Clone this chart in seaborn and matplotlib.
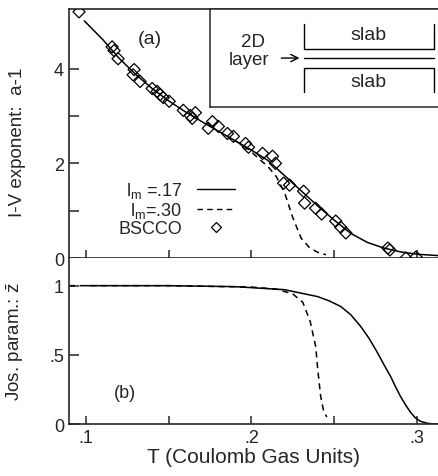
import matplotlib
matplotlib.use("Agg")
import matplotlib.pyplot as plt
import seaborn as sns
from matplotlib.lines import Line2D

# BSCCO data points (I-V exponent a-1)
bscco_t = [0.0958, 0.1158, 0.1170, 0.1194, 0.1291, 0.1285, 0.1327, 0.1400, 0.1430,
           0.1448, 0.1467, 0.1503, 0.1588, 0.1630, 0.1661, 0.1642, 0.1764, 0.1800,
           0.1739, 0.1855, 0.1891, 0.1964, 0.1982, 0.2067, 0.2127, 0.2145, 0.2194,
           0.2230, 0.2315, 0.2321, 0.2388, 0.2424, 0.2509, 0.2539, 0.2570, 0.2824,
           0.2836, 0.2933, 0.2994]
bscco_a = [5.20, 4.46, 4.38, 4.21, 3.98, 3.87, 3.73, 3.58, 3.52,
           3.45, 3.39, 3.31, 3.12, 3.01, 3.07, 2.95, 2.88, 2.78,
           2.74, 2.63, 2.57, 2.42, 2.34, 2.21, 2.15, 2.00, 1.58,
           1.54, 1.41, 1.16, 1.05, 0.93, 0.78, 0.65, 0.53, 0.21,
           0.17, 0.00, 0.02]

# theory curves, panel (a)
t_a17 = [0.099, 0.11, 0.12, 0.13, 0.14, 0.15, 0.16, 0.17, 0.18, 0.19, 0.20, 0.21,
         0.22, 0.23, 0.24, 0.25, 0.26, 0.27, 0.28, 0.29, 0.30, 0.3133]
a_17 = [5.01, 4.62, 4.22, 3.88, 3.58, 3.32, 3.09, 2.88, 2.68, 2.48, 2.28, 2.06,
        1.74, 1.42, 1.10, 0.80, 0.52, 0.33, 0.21, 0.13, 0.08, 0.05]
t_a30 = [0.19, 0.195, 0.20, 0.205, 0.21, 0.215, 0.22, 0.225, 0.23, 0.235, 0.24, 0.245]
a_30 = [2.48, 2.38, 2.24, 2.08, 1.93, 1.72, 1.38, 0.85, 0.42, 0.22, 0.12, 0.07]

# theory curves, panel (b)
t_z17 = [0.10, 0.15, 0.19, 0.22, 0.24, 0.247, 0.254, 0.26, 0.266, 0.271, 0.276,
         0.280, 0.284, 0.287, 0.290, 0.293, 0.296, 0.299, 0.302, 0.306, 0.310, 0.3133]
z_17 = [1.0, 1.0, 0.993, 0.971, 0.921, 0.89, 0.849, 0.79, 0.705, 0.62, 0.518,
        0.43, 0.345, 0.27, 0.20, 0.14, 0.086, 0.045, 0.02, 0.006, 0.0, 0.0]
t_z30 = [0.0897, 0.15, 0.20, 0.215, 0.225, 0.231, 0.2355, 0.2388, 0.240, 0.2418,
         0.2435, 0.2455]
z_30 = [1.0, 1.0, 0.99, 0.975, 0.94, 0.88, 0.74, 0.56, 0.40, 0.20, 0.10, 0.05]

xticks = [0.10, 0.15, 0.20, 0.25, 0.30]
xticklabels = [".1", "", ".2", "", ".3"]

sns.set_style("ticks")
plt.rcParams["font.family"] = ["Liberation Sans", "DejaVu Sans"]
plt.rcParams["mathtext.fontset"] = "custom"
plt.rcParams["mathtext.rm"] = "Liberation Sans"
plt.rcParams["mathtext.it"] = "Liberation Sans"
plt.rcParams["font.size"] = 13

fig = plt.figure(figsize=(4.39, 4.77), dpi=100)
ax1 = fig.add_axes([0.157, 0.457, 0.843, 0.522])
ax2 = fig.add_axes([0.157, 0.109, 0.843, 0.348])

dash = (0, (4, 3))

# panel (a)
sns.lineplot(x=t_a17, y=a_17, ax=ax1, color="black", lw=1.1, sort=False)
sns.lineplot(x=t_a30, y=a_30, ax=ax1, color="black", lw=1.1, ls=dash, sort=False)
sns.scatterplot(x=bscco_t, y=bscco_a, ax=ax1, marker="D", s=38,
                fc="none", ec="black", linewidth=0.9, zorder=3)

# panel (b)
sns.lineplot(x=t_z17, y=z_17, ax=ax2, color="black", lw=1.1, sort=False)
sns.lineplot(x=t_z30, y=z_30, ax=ax2, color="black", lw=1.1, ls=dash, sort=False)

for ax in (ax1, ax2):
    ax.set_xlim(0.0897, 0.3133)
    ax.set_xticks(xticks)
    ax.spines["right"].set_visible(False)
    for s in ax.spines.values():
        s.set_linewidth(1.2)
    ax.tick_params(direction="in", length=6, width=1.1, labelsize=13,
                   top=False, right=False)
    ax.tick_params(axis="y", length=7)

ax1.set_xticklabels([])
ax2.set_xticklabels(xticklabels)
ax1.set_ylim(0, 5.26)
ax1.set_yticks([0, 1, 2, 3, 4])
ax1.set_yticklabels(["0", "", "2", "", "4"])
ax2.set_ylim(0, 1.2)
ax2.set_yticks([0, 0.5, 1.0])
ax2.set_yticklabels(["0", ".5", "1"])
ax2.spines["top"].set_visible(False)

ax1.set_ylabel("I-V exponent:  a-1", fontsize=13.5, labelpad=4)
ax2.set_ylabel(r"Jos. param.: $\bar{\mathrm{z}}$", fontsize=13.5, labelpad=4)
ax2.set_xlabel("T (Coulomb Gas Units)", fontsize=15, labelpad=1)
ax1.yaxis.set_label_coords(-0.115, 0.47)
ax2.yaxis.set_label_coords(-0.115, 0.5)

ax1.text(0.219, 0.88, "(a)", transform=ax1.transAxes, ha="center", va="center",
         fontsize=14)
ax2.text(0.151, 0.19, "(b)", transform=ax2.transAxes, ha="center", va="center",
         fontsize=13)

handles = [
    Line2D([], [], color="black", lw=1.0),
    Line2D([], [], color="black", lw=1.0, ls=dash),
    Line2D([], [], ls="none", marker="D", ms=5, mfc="none", mec="black", mew=0.9),
]
labels = [r"$\mathrm{l_m}$ =.17", r"$\mathrm{l_m}$=.30", "BSCCO"]
ax1.legend(handles, labels, loc="upper left", bbox_to_anchor=(0.11, 0.35),
           frameon=False, markerfirst=False, handlelength=2.1, handletextpad=0.8,
           labelspacing=0.0, borderpad=0, fontsize=13)

# inset sketch of the geometry
ins = ax1.inset_axes([0.381, 0.606, 0.64, 0.394])
ins.set_xlim(0, 1)
ins.set_ylim(0, 1)
ins.set_xticks([])
ins.set_yticks([])
for s in ins.spines.values():
    s.set_linewidth(1.1)
ins.plot([0.397, 0.397, 0.948, 0.948], [0.847, 0.592, 0.592, 0.847], color="black", lw=1.0)
ins.plot([0.397, 0.948], [0.5, 0.5], color="black", lw=1.0)
ins.plot([0.397, 0.397, 0.948, 0.948], [0.153, 0.398, 0.398, 0.153], color="black", lw=1.0)
ins.text(0.668, 0.745, "slab", ha="center", va="center", fontsize=14)
ins.text(0.668, 0.265, "slab", ha="center", va="center", fontsize=14)
ins.text(0.183, 0.673, "2D", ha="center", va="center", fontsize=13.5)
ins.text(0.166, 0.49, "layer", ha="center", va="center", fontsize=13.5)
ins.annotate("", xy=(0.39, 0.5), xytext=(0.29, 0.5),
             arrowprops=dict(arrowstyle="->", color="black", lw=1.0))

fig.savefig("out.png", dpi=100)
